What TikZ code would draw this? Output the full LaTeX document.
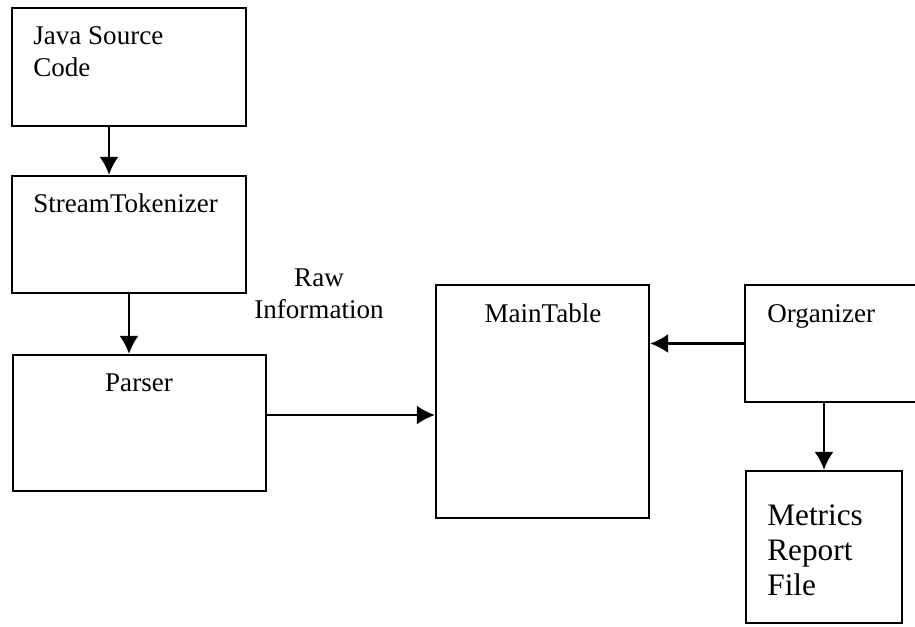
\documentclass[tikz,border=0pt]{standalone}
\usepackage{fontspec}
\setmainfont{Liberation Serif}
\usetikzlibrary{arrows.meta}

\tikzset{
  blk/.style 2 args={draw, line width=1.3pt, minimum width=#1*0.02cm, minimum height=#2*0.02cm, inner sep=0pt},
  lbl/.style={inner sep=0pt, align=left, font=\fontsize{15.4}{18}\selectfont},
  flow/.style={-{Latex[length=0.36cm,width=0.38cm]}, line width=1.3pt}
}

\begin{document}
\begin{tikzpicture}[x=0.02cm, y=-0.02cm]
    \useasboundingbox (0,0) rectangle (915,626);
    \node [blk={234}{118}] (java) at (129,67) {};
    \node [blk={234}{117}] (stream) at (129,234.5) {};
    \node [blk={253}{136}] (parser) at (139.5,423) {};
    \node [blk={213}{233}] (main) at (542.5,401.5) {};
    \node [blk={180}{117}] (organizer) at (835,343.5) {};
    \node [blk={156}{152}] (metrics) at (824,547) {};
    \node [lbl, anchor=base west] (javatext) at (33,76) {Java Source\\Code};
    \node [lbl, anchor=base west] (streamtext) at (33,212) {StreamTokenizer};
    \node [lbl, anchor=base] (parsertext) at (139,391) {Parser};
    \node [lbl, anchor=base] (maintext) at (543,322) {MainTable};
    \node [lbl, anchor=base west] (organizertext) at (767,322) {Organizer};
    \node [lbl, anchor=base west, font=\fontsize{17.8}{19.9}\selectfont] (metricstext) at (767,595) {Metrics\\Report\\File};
    \node [lbl, align=center, anchor=base] (rawtext) at (319,318) {Raw\\Information};
    \draw [flow] ([xshift=-0.4cm]java.south) -- ([xshift=-0.4cm]stream.north);
    \draw [flow] (stream.south) -- (stream.south |- parser.north);
    \draw [flow] ([yshift=0.16cm]parser.east) coordinate (p) -- (p -| main.west);
    \draw [flow] (organizer.west) -- (organizer.west -| main.east);
    \draw [flow] (metrics.north |- organizer.south) -- (metrics.north);
\end{tikzpicture}
\end{document}
